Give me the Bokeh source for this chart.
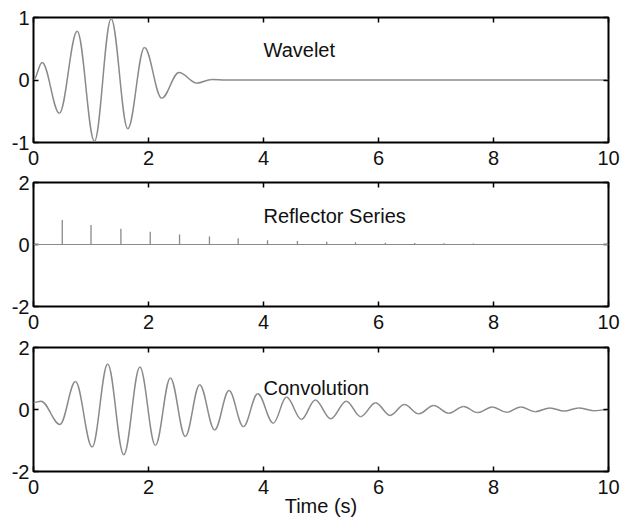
from bokeh.plotting import figure
from bokeh.models import Range1d, FixedTicker, LinearAxis, Label, Span
from bokeh.layouts import column
from bokeh.embed import file_html
from bokeh.resources import INLINE

# ---- data ----
# wavelet: turning points (time s, amplitude)
wavelet_t = [0.00, 0.15, 0.45, 0.76, 1.06, 1.35, 1.64, 1.93, 2.23, 2.53, 2.84, 3.10, 3.35, 10.0]
wavelet_v = [0.00, 0.28, -0.53, 0.78, -0.98, 0.98, -0.78, 0.52, -0.29, 0.12, -0.05, 0.01, 0.00, 0.00]

# reflector series: spike times and heights
reflector_t = [0.50, 1.00, 1.52, 2.03, 2.54, 3.06, 3.56, 4.07, 4.59, 5.10, 5.60, 6.12, 6.63, 7.14, 7.65]
reflector_v = [0.79, 0.63, 0.51, 0.41, 0.32, 0.26, 0.20, 0.14, 0.11, 0.09, 0.07, 0.055, 0.045, 0.04, 0.035]

# convolution: turning points (time s, amplitude)
conv_t = [0.00, 0.13, 0.46, 0.73, 1.02, 1.29, 1.57, 1.85, 2.12, 2.38,
          2.64, 2.89, 3.15, 3.40, 3.65, 3.90, 4.17, 4.40, 4.66, 4.90,
          5.17, 5.44, 5.69, 5.95, 6.20, 6.45, 6.70, 6.96, 7.22, 7.48,
          7.72, 7.98, 8.23, 8.47, 8.73, 8.98, 9.23, 9.48, 9.74, 10.0]
conv_v = [0.22, 0.27, -0.48, 0.90, -1.21, 1.47, -1.46, 1.37, -1.16, 1.02,
          -0.87, 0.80, -0.66, 0.61, -0.55, 0.51, -0.44, 0.40, -0.32, 0.31,
          -0.30, 0.27, -0.23, 0.22, -0.19, 0.16, -0.14, 0.13, -0.12, 0.10,
          -0.10, 0.08, -0.09, 0.08, -0.07, 0.05, -0.05, 0.05, -0.04, 0.00]

x_ticks = [0, 2, 4, 6, 8, 10]
wavelet_yticks = [-1, 0, 1]
other_yticks = [-2, 0, 2]

FONT = "Liberation Sans"
CURVE = "#8a8a8a"
TXT = "#111111"


def smooth_curve(p, ts, vs):
    # draw a smooth curve through turning points (horizontal tangents at each)
    k = 0.36
    x0, y0, x1, y1, cx0, cy0, cx1, cy1 = [], [], [], [], [], [], [], []
    for i in range(len(ts) - 1):
        dx = ts[i + 1] - ts[i]
        x0.append(ts[i]); y0.append(vs[i])
        x1.append(ts[i + 1]); y1.append(vs[i + 1])
        cx0.append(ts[i] + k * dx); cy0.append(vs[i])
        cx1.append(ts[i + 1] - k * dx); cy1.append(vs[i + 1])
    p.bezier(x0=x0, y0=y0, x1=x1, y1=y1, cx0=cx0, cy0=cy0, cx1=cx1, cy1=cy1,
             line_color=CURVE, line_width=1.5)


def style_axis(ax, ticks, labels=True, standoff=4):
    ax.ticker = FixedTicker(ticks=ticks)
    ax.major_tick_in = 5
    ax.major_tick_out = 0
    ax.minor_tick_line_color = None
    ax.axis_line_color = None
    ax.major_tick_line_color = "black"
    ax.major_tick_line_width = 1.5
    if labels:
        ax.major_label_overrides = {t: str(t) for t in ticks}
        ax.major_label_text_font = FONT
        ax.major_label_text_font_size = "20px"
        ax.major_label_text_color = TXT
        ax.major_label_standoff = standoff
    else:
        ax.major_label_text_color = None
        ax.major_label_text_alpha = 0
        ax.major_label_standoff = 0


def make_panel(ylim, yticks, fh, top, bottom, xlabel=None):
    p = figure(frame_width=575, frame_height=fh,
               x_range=Range1d(0, 10), y_range=Range1d(*ylim),
               output_backend="svg", toolbar_location=None,
               min_border_left=33, min_border_right=14,
               min_border_top=top, min_border_bottom=bottom)
    p.grid.visible = False
    p.outline_line_color = "black"
    p.outline_line_width = 2
    p.outline_line_alpha = 1
    p.background_fill_color = "white"
    p.border_fill_color = "white"
    bottom_ax = p.xaxis[0]
    left_ax = p.yaxis[0]
    style_axis(bottom_ax, x_ticks, True, 8)
    style_axis(left_ax, yticks, True, 4)
    if xlabel:
        bottom_ax.axis_label = xlabel
        bottom_ax.axis_label_text_font = FONT
        bottom_ax.axis_label_text_font_size = "20px"
        bottom_ax.axis_label_text_font_style = "normal"
        bottom_ax.axis_label_text_color = TXT
        bottom_ax.axis_label_standoff = -2
    top_ax = LinearAxis()
    right_ax = LinearAxis()
    style_axis(top_ax, x_ticks, False)
    style_axis(right_ax, yticks, False)
    p.add_layout(top_ax, "above")
    p.add_layout(right_ax, "right")
    return p


def add_title(p, x, y, text):
    p.add_layout(Label(x=x, y=y, text=text, text_font=FONT, text_font_size="20px",
                       text_color=TXT, text_align="left", text_baseline="middle"))


# Panel 1: wavelet
p1 = make_panel((-1, 1), wavelet_yticks, 125, 17, 30)
smooth_curve(p1, wavelet_t, wavelet_v)
add_title(p1, 4.0, 0.48, "Wavelet")

# Panel 2: reflector series
p2 = make_panel((-2, 2), other_yticks, 124, 10, 30)
p2.add_layout(Span(location=0, dimension="width", line_color=CURVE, line_width=1.2))
p2.segment(x0=reflector_t, y0=[0] * len(reflector_t), x1=reflector_t, y1=reflector_v,
           line_color=CURVE, line_width=1.3)
add_title(p2, 4.0, 0.92, "Reflector Series")

# Panel 3: convolution
p3 = make_panel((-2, 2), other_yticks, 124, 11, 50, xlabel="Time (s)")
smooth_curve(p3, conv_t, conv_v)
add_title(p3, 4.0, 0.69, "Convolution")

layout = column(p1, p2, p3, spacing=0)

open("out.html", "w").write(file_html(layout, INLINE))
